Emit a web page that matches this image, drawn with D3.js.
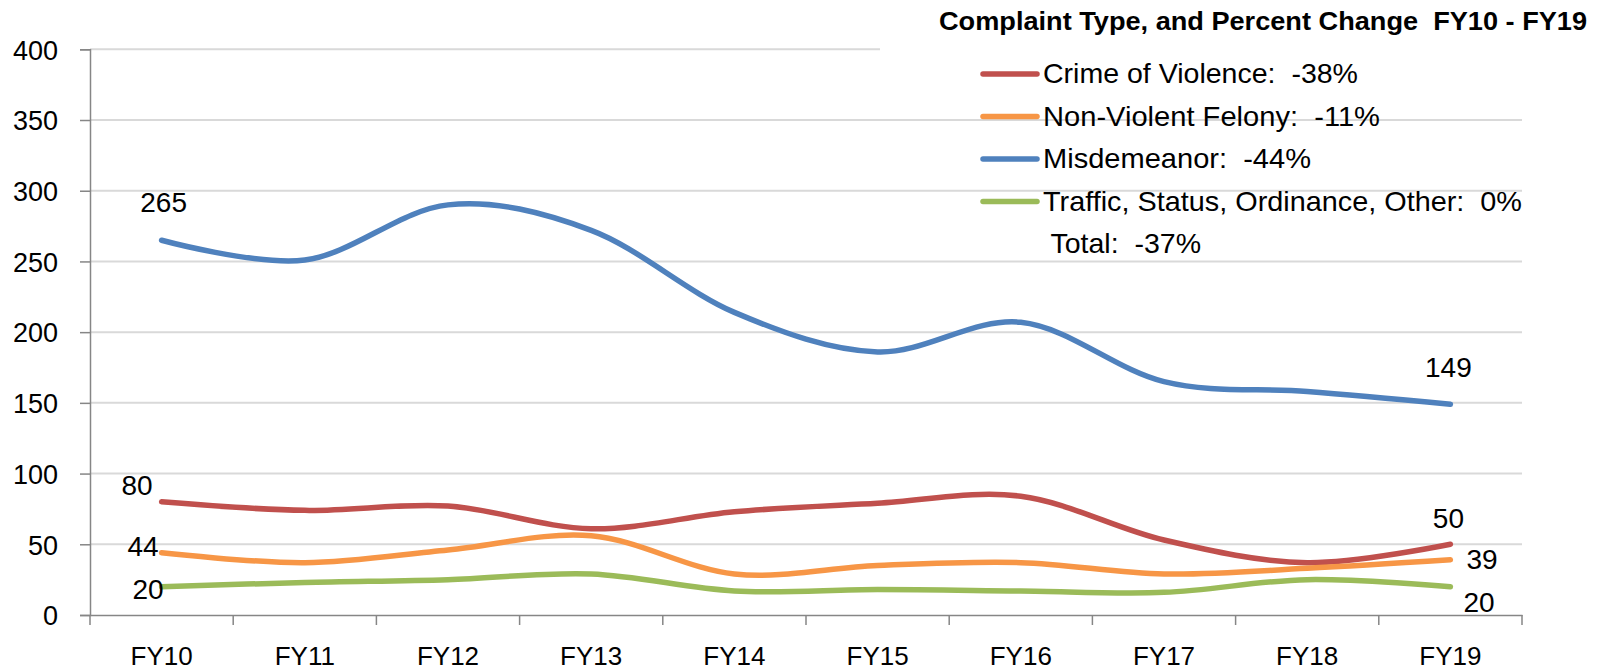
<!DOCTYPE html>
<html>
<head>
<meta charset="utf-8">
<script src="https://cdn.jsdelivr.net/npm/d3@7"></script>
<style>
  html, body { margin: 0; padding: 0; background: #fff; }
  svg { display: block; }
  text { font-family: "Liberation Sans", Arial, sans-serif; fill: #000; white-space: pre; }
</style>
</head>
<body>
<svg id="chart" width="1604" height="670"></svg>
<script>
// ---- data ----
const categories = ["FY10","FY11","FY12","FY13","FY14","FY15","FY16","FY17","FY18","FY19"];
const crimeOfViolence = [80, 74, 77, 61, 73, 79, 84, 53, 37, 50];
const nonViolentFelony = [44, 37, 46, 56, 29, 35, 37, 29, 33, 39];
const misdemeanor = [265, 251, 290, 272, 214, 186, 207, 165, 158, 149];
const trafficOther = [20, 23, 25, 29, 17, 18, 17, 16, 25, 20];
const seriesNames = ["Crime of Violence:  -38%", "Non-Violent Felony:  -11%", "Misdemeanor:  -44%", "Traffic, Status, Ordinance, Other:  0%"];
const totalLabel = " Total:  -37%";
const chartTitle = "Complaint Type, and Percent Change  FY10 - FY19";
const yTicks = [0, 50, 100, 150, 200, 250, 300, 350, 400];

const colors = ["#C0504D", "#F79646", "#4F81BD", "#9BBB59"];
const seriesValues = [crimeOfViolence, nonViolentFelony, misdemeanor, trafficOther];

// ---- layout ----
const svg = d3.select("#chart");
const x = d3.scaleBand().domain(categories).range([90, 1522]).paddingInner(0).paddingOuter(0);
const y = d3.scaleLinear().domain([0, 400]).range([615, 49.3]);
const cx = c => x(c) + x.bandwidth() / 2;

// gridlines
svg.append("g").selectAll("line").data(yTicks.filter(t => t > 0)).join("line")
  .attr("x1", 90).attr("x2", t => t === 400 ? 880 : 1522)
  .attr("y1", t => y(t)).attr("y2", t => y(t))
  .attr("stroke", "#D9D9D9").attr("stroke-width", 2);

// y axis
const yAxis = svg.append("g").attr("transform", "translate(90,0)")
  .call(d3.axisLeft(y).tickValues(yTicks).tickSize(10).tickPadding(22));
yAxis.select(".domain").attr("stroke", "#868686").attr("stroke-width", 1.5);
yAxis.selectAll(".tick line").attr("stroke", "#868686").attr("stroke-width", 1.5);
yAxis.selectAll(".tick text").attr("font-size", 27).attr("font-family", "Liberation Sans")
  .attr("fill", "#000").attr("dy", "0.36em").attr("x", -32);

// x axis
const xAxis = svg.append("g").attr("transform", "translate(0,615)")
  .call(d3.axisBottom(x).tickSize(0).tickPadding(0));
xAxis.select(".domain").attr("stroke", "#868686").attr("stroke-width", 1.5);
xAxis.selectAll(".tick text").attr("font-size", 26).attr("font-family", "Liberation Sans")
  .attr("fill", "#000").attr("dy", 0).attr("y", 50);
// boundary tick marks
const bounds = categories.map(c => x(c)).concat([x(categories[categories.length - 1]) + x.bandwidth()]);
svg.append("g").selectAll("line").data(bounds).join("line")
  .attr("x1", d => d).attr("x2", d => d).attr("y1", 615).attr("y2", 625)
  .attr("stroke", "#868686").attr("stroke-width", 1.5);

// lines
const line = d3.line()
  .x((d, i) => cx(categories[i]))
  .y(d => y(d))
  .curve(d3.curveCardinal.tension(0));

svg.append("g").selectAll("path").data(seriesValues).join("path")
  .attr("d", d => line(d))
  .attr("fill", "none")
  .attr("stroke", (d, i) => colors[i])
  .attr("stroke-width", 5.5)
  .attr("stroke-linecap", "round")
  .attr("stroke-linejoin", "round");

// data labels (first and last values)
const labelFmt = [
  { first: { dx: -9, dy: -7, anchor: "end" }, last: { dx: -2, dy: -16, anchor: "middle" } },
  { first: { dx: -3, dy: 3, anchor: "end" }, last: { dx: 16, dy: 9, anchor: "start" } },
  { first: { dx: 2, dy: -28, anchor: "middle" }, last: { dx: -2, dy: -27, anchor: "middle" } },
  { first: { dx: 2, dy: 12, anchor: "end" }, last: { dx: 13, dy: 25, anchor: "start" } }
];
const lbl = svg.append("g");
seriesValues.forEach((vals, i) => {
  const n = vals.length - 1;
  [[0, labelFmt[i].first], [n, labelFmt[i].last]].forEach(([idx, f]) => {
    lbl.append("text")
      .attr("x", cx(categories[idx]) + f.dx)
      .attr("y", y(vals[idx]) + f.dy)
      .attr("text-anchor", f.anchor)
      .attr("font-size", 28)
      .text(vals[idx]);
  });
});

// title
svg.append("text")
  .attr("x", 939).attr("y", 30)
  .attr("font-size", 25).attr("font-weight", "bold")
  .attr("textLength", 648).attr("lengthAdjust", "spacingAndGlyphs")
  .text(chartTitle);

// legend
const legendWidths = [315, 337, 268, 479];
const leg = svg.append("g");
seriesNames.forEach((name, i) => {
  const base = 83 + i * 42.5;
  leg.append("line")
    .attr("x1", 983).attr("x2", 1037).attr("y1", base - 9).attr("y2", base - 9)
    .attr("stroke", colors[i]).attr("stroke-width", 5.5).attr("stroke-linecap", "round");
  leg.append("text")
    .attr("x", 1043).attr("y", base)
    .attr("font-size", 28)
    .attr("textLength", legendWidths[i]).attr("lengthAdjust", "spacingAndGlyphs")
    .text(name);
});
leg.append("text")
  .attr("x", 1043).attr("y", 83 + 4 * 42.5)
  .attr("font-size", 28)
  .attr("textLength", 158).attr("lengthAdjust", "spacingAndGlyphs")
  .text(totalLabel);
</script>
</body>
</html>
